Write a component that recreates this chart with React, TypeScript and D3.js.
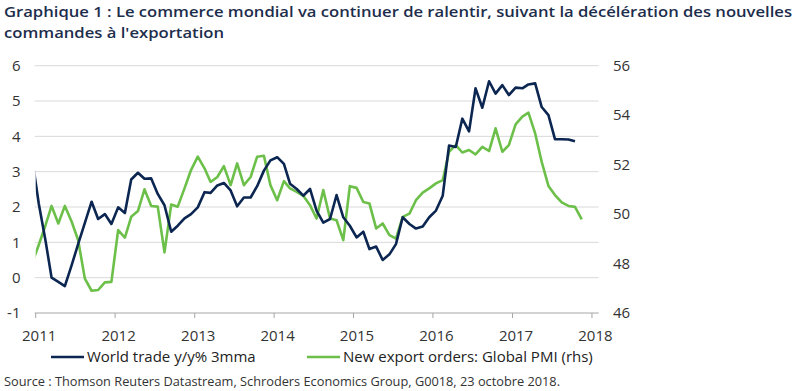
import React, { useEffect, useRef } from 'react';
import * as d3 from 'd3';

// monthly values, first point is Dec 2010 (clipped by the plot area)
const worldTrade = [
  3.4, 2.1, 1.05, 0.0, -0.12, -0.24, 0.35, 0.95, 1.55, 2.15, 1.66, 1.8, 1.52,
  1.99, 1.83, 2.78, 2.97, 2.8, 2.81, 2.37, 2.05, 1.3, 1.47, 1.68, 1.8,
  1.99, 2.42, 2.4, 2.61, 2.68, 2.47, 2.02, 2.27, 2.27, 2.59, 3.03, 3.32,
  3.41, 3.22, 2.66, 2.51, 2.32, 2.51, 1.9, 1.56, 1.66, 2.34, 1.71, 1.47,
  1.14, 1.3, 0.81, 0.88, 0.5, 0.66, 0.95, 1.71, 1.52, 1.39, 1.45, 1.71,
  1.9, 2.32, 3.74, 3.7, 4.5, 4.14, 5.36, 4.81, 5.56, 5.21, 5.45, 5.17,
  5.38, 5.36, 5.47, 5.5, 4.83, 4.6, 3.92, 3.92, 3.91, 3.86,
];

const exportOrders = [
  48.0, 48.75, 49.55, 50.33, 49.62, 50.33, 49.7, 48.95, 47.39, 46.9, 46.93, 47.24, 47.26,
  49.35, 49.05, 49.89, 50.12, 51.0, 50.33, 50.3, 48.45, 50.39, 50.3, 51.04, 51.78,
  52.32, 51.85, 51.3, 51.5, 51.94, 51.17, 52.05, 51.17, 51.5, 52.32, 52.36, 51.17,
  50.56, 51.33, 51.04, 50.9, 50.74, 50.36, 49.82, 50.97, 49.82, 49.75, 48.95, 51.13,
  51.06, 50.49, 50.43, 49.42, 49.62, 49.15, 49.01, 49.89, 50.02, 50.56, 50.87, 51.04,
  51.24, 51.37, 52.52, 52.79, 52.49, 52.59, 52.41, 52.72, 52.55, 53.47, 52.52, 52.79,
  53.63, 53.94, 54.1, 53.26, 52.11, 51.14, 50.77, 50.47, 50.33, 50.29, 49.79,
];

const years = [2011, 2012, 2013, 2014, 2015, 2016, 2017, 2018];
const leftTicks = [-1, 0, 1, 2, 3, 4, 5, 6];
const rightTicks = [46, 48, 50, 52, 54, 56];
const seriesNames = ['World trade y/y% 3mma', 'New export orders: Global PMI (rhs)'];
const titleLines = [
  'Graphique 1 : Le commerce mondial va continuer de ralentir, suivant la décélération des nouvelles',
  "commandes à l'exportation",
];
const source = 'Source : Thomson Reuters Datastream, Schroders Economics Group, G0018, 23 octobre 2018.';

const NAVY = '#0c2652';
const GREEN = '#6cc04a';
const FONT = '"Open Sans", sans-serif';

const App = () => {
  const svgRef = useRef<SVGSVGElement>(null);

  useEffect(() => {
    document.body.style.margin = '0';
    const width = 800;
    const height = 391;
    const svg = d3.select(svgRef.current).attr('width', width).attr('height', height);
    svg.selectAll('*').remove();

    const plot = { left: 35.7, right: 598.7, top: 65.7, bottom: 313 };

    const x = d3
      .scaleTime()
      .domain([new Date(2011, 0, 1), new Date(2018, 1, 1)])
      .range([plot.left, plot.right]);
    const yL = d3.scaleLinear().domain([-1, 6]).range([plot.bottom, plot.top]);
    const yR = d3.scaleLinear().domain([46, 56]).range([plot.bottom, plot.top]);

    const dateOf = (i: number) => new Date(2010, 11 + i, 15);

    svg.append('rect').attr('width', width).attr('height', height).attr('fill', '#fff');

    // title
    svg
      .append('g')
      .selectAll('text')
      .data(titleLines)
      .enter()
      .append('text')
      .attr('x', 4)
      .attr('y', (d, i) => 17 + i * 21)
      .attr('textLength', (d, i) => (i === 0 ? 788 : 220))
      .attr('lengthAdjust', 'spacingAndGlyphs')
      .style('font-family', FONT)
      .style('font-weight', 600)
      .style('font-size', '15px')
      .style('fill', '#1d2d4c')
      .text((d) => d);

    // gridlines
    svg
      .append('g')
      .selectAll('line')
      .data(leftTicks.slice(1))
      .enter()
      .append('line')
      .attr('x1', plot.left - 1)
      .attr('x2', plot.right)
      .attr('y1', (d) => yL(d))
      .attr('y2', (d) => yL(d))
      .attr('stroke', '#d9d9d9')
      .attr('stroke-width', 1);

    // x axis
    svg
      .append('line')
      .attr('x1', plot.left - 1)
      .attr('x2', plot.right)
      .attr('y1', plot.bottom)
      .attr('y2', plot.bottom)
      .attr('stroke', '#a6a6a6')
      .attr('stroke-width', 1);

    const yearDates = years.map((yr) => new Date(yr, 0, 1));
    svg
      .append('g')
      .selectAll('line')
      .data(yearDates)
      .enter()
      .append('line')
      .attr('x1', (d) => x(d))
      .attr('x2', (d) => x(d))
      .attr('y1', plot.bottom)
      .attr('y2', plot.bottom + 5)
      .attr('stroke', '#a6a6a6');

    svg
      .append('g')
      .selectAll('text')
      .data(yearDates)
      .enter()
      .append('text')
      .attr('x', (d) => x(d) + 3.5)
      .attr('y', 341)
      .attr('text-anchor', 'middle')
      .style('font-family', FONT)
      .style('font-size', '15px')
      .style('fill', '#333')
      .text((d) => d.getFullYear());

    // left / right tick labels
    svg
      .append('g')
      .selectAll('text')
      .data(leftTicks)
      .enter()
      .append('text')
      .attr('x', 20.5)
      .attr('y', (d) => yL(d))
      .attr('dy', '0.35em')
      .attr('text-anchor', 'end')
      .style('font-family', FONT)
      .style('font-size', '15px')
      .style('fill', '#333')
      .text((d) => d);

    svg
      .append('g')
      .selectAll('text')
      .data(rightTicks)
      .enter()
      .append('text')
      .attr('x', 613)
      .attr('y', (d) => yR(d))
      .attr('dy', '0.35em')
      .style('font-family', FONT)
      .style('font-size', '15px')
      .style('fill', '#333')
      .text((d) => d);

    // clip the lines to the plot area
    svg
      .append('clipPath')
      .attr('id', 'plot-clip')
      .append('rect')
      .attr('x', plot.left)
      .attr('y', 0)
      .attr('width', plot.right - plot.left)
      .attr('height', height);

    const lineL = d3
      .line<number>()
      .x((d, i) => x(dateOf(i)))
      .y((d) => yL(d));
    const lineR = d3
      .line<number>()
      .x((d, i) => x(dateOf(i)))
      .y((d) => yR(d));

    const lines = svg.append('g').attr('clip-path', 'url(#plot-clip)');
    lines
      .append('path')
      .attr('d', lineR(exportOrders))
      .attr('fill', 'none')
      .attr('stroke', GREEN)
      .attr('stroke-width', 2.6)
      .attr('stroke-linejoin', 'round');
    lines
      .append('path')
      .attr('d', lineL(worldTrade))
      .attr('fill', 'none')
      .attr('stroke', NAVY)
      .attr('stroke-width', 2.6)
      .attr('stroke-linejoin', 'round');

    // legend
    const legend = [
      { name: seriesNames[0], color: NAVY, x0: 51, x1: 84, tx: 87 },
      { name: seriesNames[1], color: GREEN, x0: 307, x1: 340, tx: 343 },
    ];
    const lg = svg.append('g').selectAll('g').data(legend).enter().append('g');
    lg.append('line')
      .attr('x1', (d) => d.x0)
      .attr('x2', (d) => d.x1)
      .attr('y1', 357)
      .attr('y2', 357)
      .attr('stroke', (d) => d.color)
      .attr('stroke-width', 2.6);
    lg.append('text')
      .attr('x', (d) => d.tx)
      .attr('y', 361.5)
      .style('font-family', FONT)
      .style('font-size', '15px')
      .style('fill', '#222')
      .text((d) => d.name);

    // source
    svg
      .append('text')
      .attr('x', 4)
      .attr('y', 386)
      .attr('textLength', 556)
      .attr('lengthAdjust', 'spacingAndGlyphs')
      .style('font-family', FONT)
      .style('font-size', '12.5px')
      .style('fill', '#333')
      .text(source);
  }, []);

  return <svg ref={svgRef} style={{ display: 'block' }} />;
};

export default App;
